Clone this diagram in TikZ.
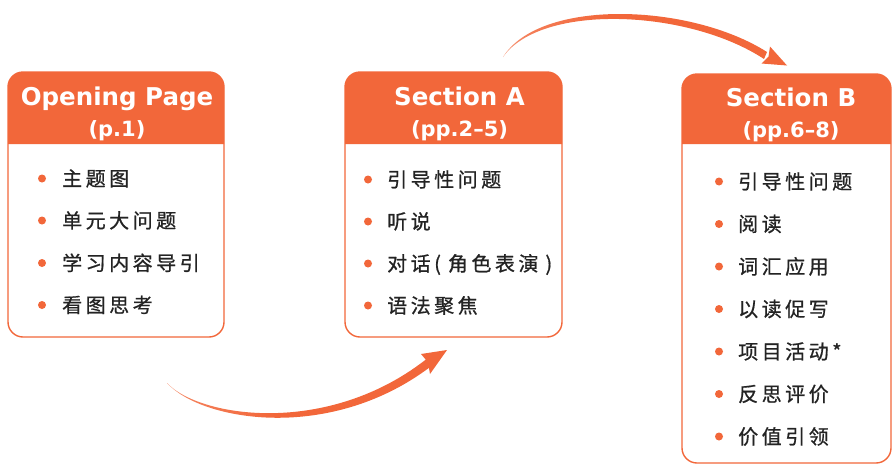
\documentclass[tikz,border=0pt]{standalone}
\usepackage{fontspec}
\setmainfont{DejaVu Sans}
\newfontfamily\cjk[LetterSpace=17.5,FakeBold=0.8]{Noto Sans CJK SC}
\definecolor{orM}{RGB}{242,103,58}
\definecolor{txt}{RGB}{35,35,35}
\pgfdeclarehorizontalshading{arrfade}{100bp}{color(0bp)=(orM!5); color(12bp)=(orM!30); color(30bp)=(orM!85); color(45bp)=(orM); color(100bp)=(orM)}
\begin{document}
\begin{tikzpicture}[x=1pt,y=-1pt,
  box/.style={draw=orM, line width=1.4pt, rounded corners=15pt, fill=white, inner sep=0pt},
  ttl/.style={text=white, font=\bfseries\fontsize{24.5}{24.5}\selectfont, anchor=base, inner sep=0pt},
  sub/.style={text=white, font=\bfseries\fontsize{21}{21}\selectfont, anchor=base, inner sep=0pt},
  item/.style={anchor=base west, inner sep=0pt, text=txt, font=\cjk\fontsize{20}{20}\selectfont},
  dot/.style={circle, fill=orM, inner sep=0pt, minimum size=8pt},
  hdr/.style={fill=orM},
  arrbody/.style={shading=arrfade},
  arrhead/.style={fill=orM}
]
\useasboundingbox (0,0) rectangle (893,466);

% ---------- boxes ----------
\node[box, minimum width=216pt, minimum height=265pt] (b1) at (116,204.5) {};
\node[box, minimum width=217pt, minimum height=265pt] (bA) at (453.5,204.5) {};
\node[box, minimum width=209pt, minimum height=389pt] (bB) at (786.5,268.5) {};

% headers
\fill[hdr] (8,144) [rounded corners=15pt] -- (8,72) -- (224,72) [sharp corners] -- (224,144) -- cycle;
\fill[hdr] (345,144) [rounded corners=15pt] -- (345,72) -- (562,72) [sharp corners] -- (562,144) -- cycle;
\fill[hdr] (682,144) [rounded corners=15pt] -- (682,74) -- (891,74) [sharp corners] -- (891,144) -- cycle;

% titles
\node[ttl] (t1) at (117,105) {Opening Page};
\node[sub] (s1) at (117,136) {(p.1)};
\node[ttl] (tA) at (459.5,105) {Section A};
\node[sub] (sA) at (459.5,136) {(pp.2–5)};
\node[ttl] (tB) at (791,106) {Section B};
\node[sub] (sB) at (791,137) {(pp.6–8)};

% ---------- items: Opening Page ----------
\foreach \y/\t [count=\i] in {178.5/主题图, 220.5/单元大问题, 263/学习内容导引, 305/看图思考}{
  \node[dot] (d1\i) at (42,\y) {};
  \node[item] (i1\i) at (62,\y+7.5) {\t};
}
% ---------- items: Section A ----------
\foreach \y/\t [count=\i] in {179.5/引导性问题, 221.5/听说, 305.5/语法聚焦}{
  \node[dot] (dA\i) at (368,\y) {};
  \node[item] (iA\i) at (387,\y+7.5) {\t};
}
\node[dot] (dA4) at (368,263.5) {};
\node[item] (iA4) at (387,271) {对话(\hspace{7pt}角色表演\hspace{7pt})};
% ---------- items: Section B ----------
\foreach \y/\t [count=\i] in {181.5/引导性问题, 224/阅读, 266.5/词汇应用, 309/以读促写, 351.5/项目活动*, 394/反思评价, 436.5/价值引领}{
  \node[dot] (dB\i) at (719,\y) {};
  \node[item] (iB\i) at (738,\y+7.5) {\t};
}

% ---------- arrows ----------
\coordinate (a1s) at (167,383);
\coordinate (a1t) at (447,350);
\shade[arrbody] (a1s) .. controls (200,418) and (330,437) .. (429,357)
  -- (434,364) .. controls (332,444) and (201,421) .. (a1s) -- cycle;
\fill[arrhead] (a1t) -- (421,354) -- (428,362.4) -- (430,374) -- cycle;

\coordinate (a2s) at (503,57);
\coordinate (a2t) at (787,65.5);
\shade[arrbody] (a2s) .. controls (540,-2) and (690,3) .. (767,52)
  -- (764,59) .. controls (688,9) and (541,3) .. (a2s) -- cycle;
\fill[arrhead] (a2t) -- (770,46.5) -- (768.5,56.5) -- (761.5,63.5) -- cycle;
\end{tikzpicture}
\end{document}
